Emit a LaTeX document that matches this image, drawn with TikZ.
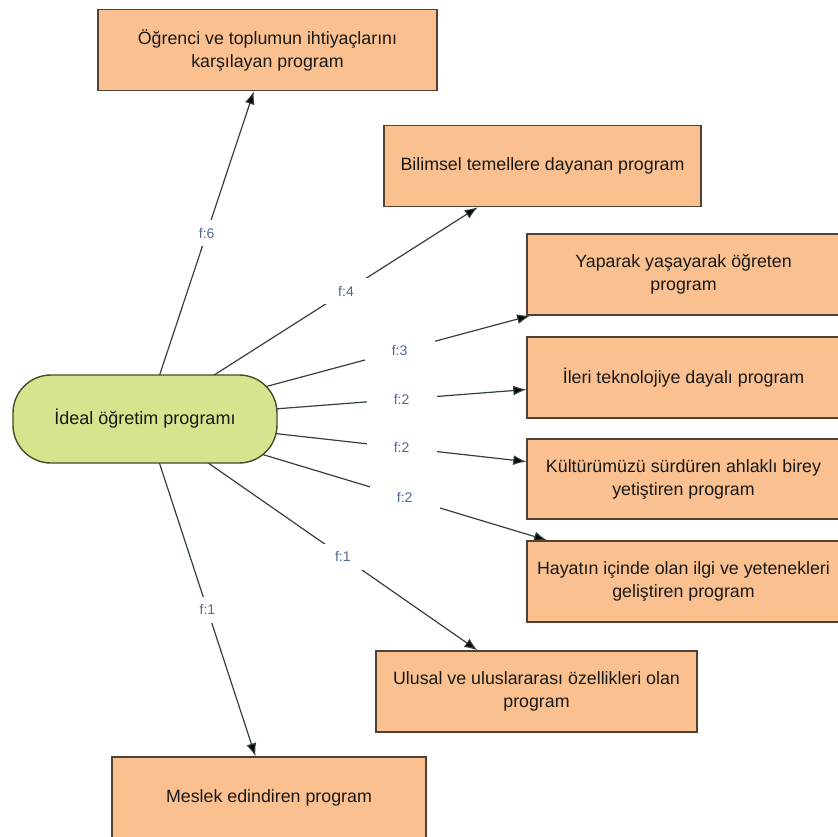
\documentclass[tikz,border=0pt]{standalone}
\usepackage{fontspec}
\setmainfont{Liberation Sans}
\usetikzlibrary{arrows.meta,backgrounds}

\definecolor{boxfill}{RGB}{250,192,143}
\definecolor{boxline}{RGB}{82,66,52}
\definecolor{idealfill}{RGB}{215,228,142}
\definecolor{idealline}{RGB}{70,75,40}
\definecolor{linkline}{RGB}{50,64,64}
\definecolor{freqtext}{RGB}{80,104,145}

\begin{document}
\begin{tikzpicture}[x=1pt,y=-1pt,
		prog/.style={draw=boxline,line width=1.4pt,fill=boxfill,align=center,inner sep=0pt,
			minimum height=81pt,font=\fontsize{17.8}{23}\selectfont,text=black!90},
		freq/.style={fill=white,inner sep=0pt,minimum width=70pt,minimum height=26pt,
			font=\fontsize{14}{16}\selectfont,text=freqtext}]
		\useasboundingbox (0,0) rectangle (838,837);
		%
		\node[draw=idealline,line width=1.4pt,fill=idealfill,rounded corners=38pt,
			minimum width=264pt,minimum height=88pt,font=\fontsize{18}{22}\selectfont,text=black!90]
			(ideal) at (145,419) {İdeal öğretim programı};
		%
		\node[prog,minimum width=339pt] (needs) at (267.5,50) {Öğrenci ve toplumun ihtiyaçlarını\\karşılayan program};
		\node[prog,minimum width=317pt] (science) at (542.5,166) {Bilimsel temellere dayanan program};
		\node[prog,minimum width=313pt] (doing) at (683.5,274.5) {Yaparak yaşayarak öğreten\\program};
		\node[prog,minimum width=313pt] (tech) at (683.5,377.5) {İleri teknolojiye dayalı program};
		\node[prog,minimum width=313pt,minimum height=80pt] (culture) at (683.5,479) {Kültürümüzü sürdüren ahlaklı birey\\yetiştiren program};
		\node[prog,minimum width=313pt] (life) at (683.5,581.5) {Hayatın içinde olan ilgi ve yetenekleri\\geliştiren program};
		\node[prog,minimum width=321pt] (nation) at (536.5,691.5) {Ulusal ve uluslararası özellikleri olan\\program};
		\node[prog,minimum width=314pt,minimum height=82pt] (job) at (269,798) {Meslek edindiren program};
		%
		\begin{scope}[on background layer]
		\path[->,>={Latex[length=13pt,width=10pt]},draw=linkline,line width=1.2pt]
		(ideal.center) edge node[freq,pos=.567]{f:6} (needs)
		(ideal.center) edge node[freq,pos=.604]{f:4} (science)
		(ideal.center) edge node[freq,pos=.661]{f:3} (doing)
		(ideal.center) edge node[freq,pos=.673]{f:2} (tech)
		(ideal.center) edge node[freq,pos=.673]{f:2} (culture)
		(ideal.center) edge node[freq,pos=.646]{f:2} (life)
		(ideal.center) edge node[freq,pos=.595]{f:1} (nation)
		(ideal.center) edge node[freq,pos=.565]{f:1} (job);
		\end{scope}
\end{tikzpicture}
\end{document}
